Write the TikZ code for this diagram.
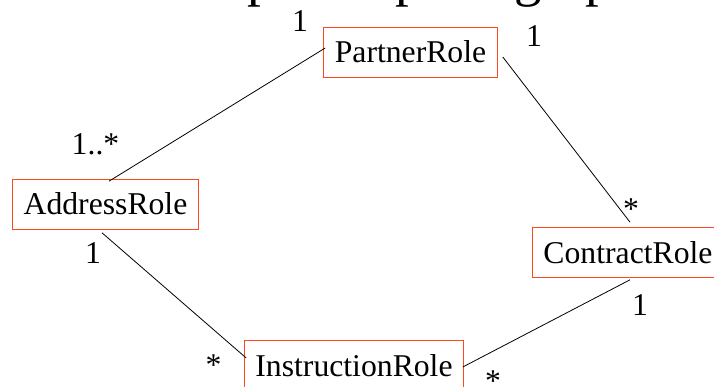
\documentclass[tikz,border=0pt]{standalone}
\usepackage{fontspec}
\setmainfont{Liberation Serif}
\definecolor{rolered}{RGB}{255,72,30}
\begin{document}
\begin{tikzpicture}[x=1pt,y=-1pt,
  role/.style={draw=rolered, line width=1.6pt,
    font=\fontsize{31.7}{38}\selectfont,
    text height=21pt, text depth=0pt, inner xsep=4pt, inner ysep=4pt,
    minimum height=50pt},
  mult/.style={font=\fontsize{31.7}{38}\selectfont, anchor=base, inner sep=0pt},
  assoc/.style={black, line width=0.8pt}]
\useasboundingbox (0,0) rectangle (714,387);
\clip (0,0) rectangle (714,387);

% heading, running off the top edge
\node[anchor=base west, inner sep=0pt, font=\fontsize{55}{66}\selectfont]
  (title) at (119,-4) {Example map for graph};

% role classes
\node[role, minimum width=174pt] (partner) at (410.5,52.5) {PartnerRole};
\node[role, minimum width=186pt] (address) at (105.5,204.5) {AddressRole};
\node[role, minimum width=191pt] (contract) at (628,252.5) {ContractRole};
\node[role, minimum width=219pt] (instr) at (354,365.5) {InstructionRole};

% associations
\draw[assoc] ([shift={(3.5,2.5)}]address.north) -- ([shift={(2.5,-4.5)}]partner.west);
\draw[assoc] ([shift={(4.5,4.5)}]partner.east) -- ([shift={(2,-4.5)}]contract.north);
\draw[assoc] ([shift={(-3.5,2.5)}]address.south) -- ([shift={(2.5,-7.5)}]instr.west);
\draw[assoc] ([shift={(2,1.5)}]contract.south) -- ([shift={(-1.5,1.5)}]instr.east);

% multiplicities
\node[mult] (m1) at (300,32) {1};
\node[mult] (m2) at (534,47) {1};
\node[mult] (m3) at (95.5,155) {1..*};
\node[mult] (m4) at (93,263) {1};
\node[mult] (m5) at (213.5,375) {*};
\node[mult] (m6) at (493,391) {*};
\node[mult] (m7) at (631,220) {*};
\node[mult] (m8) at (640,315) {1};
\end{tikzpicture}
\end{document}
